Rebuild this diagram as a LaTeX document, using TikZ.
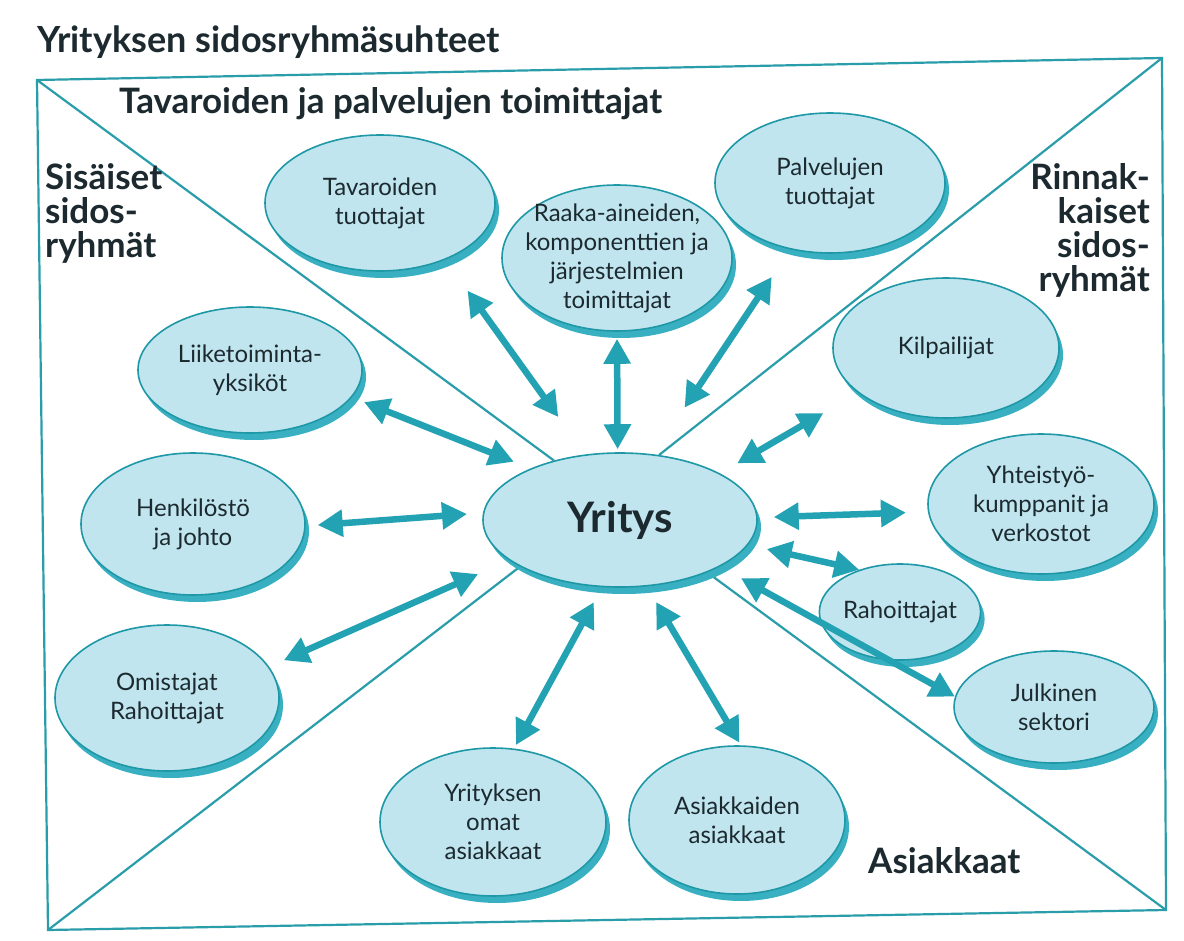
\documentclass[tikz,border=0pt]{standalone}
\usepackage{fontspec}
\setmainfont{Lato}
\usetikzlibrary{arrows.meta,shapes.geometric,shadows}
\definecolor{ellfill}{HTML}{C0E5EE}
\definecolor{elldraw}{HTML}{1E98A6}
\definecolor{ellshadow}{HTML}{38B0C1}
\definecolor{arrowcol}{HTML}{22A2B2}
\definecolor{framecol}{HTML}{2A9DAA}
\definecolor{txt}{HTML}{1C2A30}
\pgfdeclarelayer{bg}
\pgfsetlayers{bg,main}
\begin{document}
\begin{tikzpicture}[x=1pt,y=-1pt,
  ell/.style={ellipse, draw=elldraw, line width=1.6pt, fill=ellfill, text=txt,
    align=center, inner sep=0pt, font=\fontsize{24}{29}\selectfont,
    drop shadow={shadow xshift=4pt, shadow yshift=-7pt, fill=ellshadow, opacity=1}},
  dar/.style={draw=arrowcol, line width=6.5pt,
    {Triangle[length=25pt,width=26pt]}-{Triangle[length=25pt,width=26pt]}},
  framel/.style={draw=framecol, line width=2.2pt},
  lab/.style={font=\bfseries\fontsize{35}{34}\selectfont, text=txt, inner sep=0pt}
]
\useasboundingbox (0,0) rectangle (1184,941);

% title and labels
\node[lab, font=\bfseries\fontsize{36}{40}\selectfont, anchor=base west] (title) at (37,53) {Yrityksen sidosryhmäsuhteet};
\node[lab, anchor=base west] (ltav) at (119,114) {Tavaroiden ja palvelujen toimittajat};
\node[lab, anchor=base west, align=left] (lsis) at (45,258) {Sisäiset\\sidos-\\ryhmät};
\node[lab, anchor=base east, align=right] (lrin) at (1150,292) {Rinnak-\\kaiset\\sidos-\\ryhmät};
\node[lab, anchor=base west] (lasi) at (868,873) {Asiakkaat};

% frame corners
\coordinate (tl) at (37,80);
\coordinate (tr) at (1162,58);
\coordinate (br) at (1166,910);
\coordinate (bl) at (48,930);

% ellipses
\node[ell, minimum width=274pt, minimum height=134pt, font=\bfseries\fontsize{42}{44}\selectfont] (yr) at (620,520) {Yritys};
\node[ell, minimum width=230pt, minimum height=136pt] (tav) at (380,203) {Tavaroiden\\tuottajat};
\node[ell, minimum width=230pt, minimum height=146pt, inner xsep=-30pt, inner ysep=-12pt] (raa) at (617,258) {Raaka-aineiden,\\komponenttien ja\\järjestelmien\\toimittajat};
\node[ell, minimum width=230pt, minimum height=140pt] (pal) at (830,183) {Palvelujen\\tuottajat};
\node[ell, minimum width=224pt, minimum height=126pt] (lii) at (250,370) {Liiketoiminta-\\yksiköt};
\node[ell, minimum width=224pt, minimum height=142pt] (hen) at (193,524) {Henkilöstö\\ja johto};
\node[ell, minimum width=224pt, minimum height=146pt] (omi) at (167,698) {Omistajat\\Rahoittajat};
\node[ell, minimum width=226pt, minimum height=140pt] (kil) at (946,348) {Kilpailijat};
\node[ell, minimum width=226pt, minimum height=140pt, inner sep=-6pt] (yht) at (1041,504) {Yhteistyö-\\kumppanit ja\\verkostot};
\node[ell, minimum width=150pt, minimum height=96pt] (rah) at (900,612) {Rahoittajat};
\node[ell, minimum width=200pt, minimum height=112pt] (jul) at (1054,707) {Julkinen\\sektori};
\node[ell, minimum width=226pt, minimum height=148pt] (yom) at (493,822) {Yrityksen\\omat\\asiakkaat};
\node[ell, minimum width=216pt, minimum height=148pt] (asa) at (737,820) {Asiakkaiden\\asiakkaat};

% frame and diagonals
\begin{pgfonlayer}{bg}
\fill[white] (0,0) rectangle (1184,941);
\draw[framel] (tl) -- (tr) -- (br) -- (bl) -- cycle;
\draw[framel] (tl) -- (yr.138.5);
\draw[framel] (tr) -- (yr.59.5);
\draw[framel] (bl) -- (yr.-155.8);
\draw[framel] (br) -- (yr.-31.5);
\end{pgfonlayer}

% arrows
\draw[dar, shorten <=38pt, shorten >=46pt] (tav.-41.7) -- (yr.118.9);
\draw[dar, shorten <=7pt, shorten >=3pt] (raa.-90) -- (yr.92.5);
\draw[dar, shorten <=33pt, shorten >=56pt] (pal.-121.2) -- (yr.63.6);
\draw[dar, shorten <=13pt, shorten >=18pt] (lii.-15.8) -- (yr.150.3);
\draw[dar, shorten <=12pt, shorten >=16pt] (hen.-1.8) -- (yr.177);
\draw[dar, shorten <=16pt, shorten >=34pt] (omi.17.2) -- (yr.200.7);
\draw[dar, shorten <=40pt, shorten >=20pt] (kil.-153.2) -- (yr.25.2);
\draw[dar, shorten <=22pt, shorten >=16pt] (yht.-176.6) -- (yr.1.9);
\draw[dar, shorten <=0pt, shorten >=19pt] (rah.134.3) -- (yr.-11.7);
\draw[dar, shorten <=0pt, shorten >=24pt] (jul.174.2) -- (yr.-25.4);
\draw[dar, shorten <=4pt, shorten >=17pt] (yom.74.1) -- (yr.-105.5);
\draw[dar, shorten <=3pt, shorten >=18pt] (asa.87.8) -- (yr.-68.9);
\end{tikzpicture}
\end{document}
